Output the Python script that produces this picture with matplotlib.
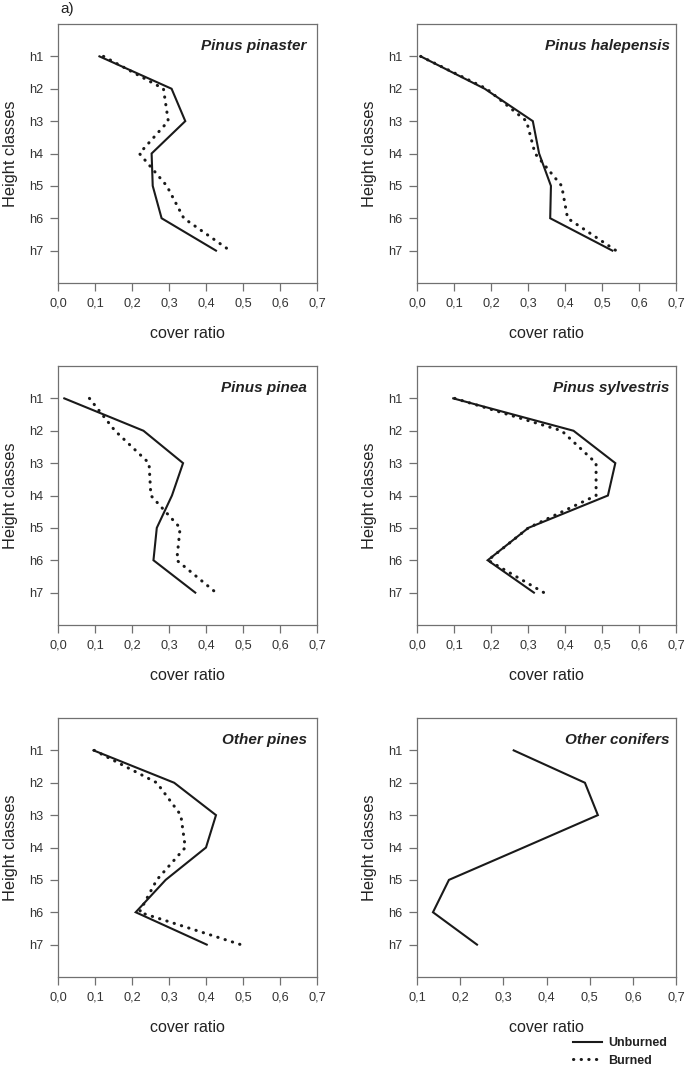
import matplotlib.pyplot as plt
from matplotlib.lines import Line2D

plt.rcParams['font.family'] = ['Liberation Sans', 'DejaVu Sans']

classes = ['h1', 'h2', 'h3', 'h4', 'h5', 'h6', 'h7']
species = ['Pinus pinaster', 'Pinus halepensis', 'Pinus pinea',
           'Pinus sylvestris', 'Other pines', 'Other conifers']

unburned = {
    'Pinus pinaster':   [0.112, 0.307, 0.344, 0.253, 0.256, 0.280, 0.427],
    'Pinus halepensis': [0.010, 0.183, 0.313, 0.330, 0.362, 0.360, 0.528],
    'Pinus pinea':      [0.017, 0.231, 0.338, 0.308, 0.267, 0.258, 0.371],
    'Pinus sylvestris': [0.098, 0.423, 0.536, 0.516, 0.301, 0.191, 0.316],
    'Other pines':      [0.096, 0.314, 0.427, 0.400, 0.291, 0.210, 0.402],
    'Other conifers':   [0.324, 0.489, 0.519, 0.347, 0.174, 0.137, 0.239],
}
burned = {
    'Pinus pinaster':   [0.123, 0.285, 0.298, 0.220, 0.294, 0.340, 0.465],
    'Pinus halepensis': [0.010, 0.188, 0.296, 0.319, 0.391, 0.407, 0.538],
    'Pinus pinea':      [0.085, 0.154, 0.246, 0.251, 0.330, 0.321, 0.427],
    'Pinus sylvestris': [0.102, 0.391, 0.484, 0.484, 0.301, 0.192, 0.343],
    'Other pines':      [0.098, 0.267, 0.332, 0.344, 0.267, 0.220, 0.494],
}
xticks_main = [0.0, 0.1, 0.2, 0.3, 0.4, 0.5, 0.6, 0.7]
xticks_conifers = [0.1, 0.2, 0.3, 0.4, 0.5, 0.6, 0.7]

W, H = 685, 1065
fig = plt.figure(figsize=(W / 100, H / 100), dpi=100)

lefts = [58, 417]
tops = [24, 366, 718]
pw, ph = 259, 259
gray = '#707070'
dotted = (0, (0.1, 2.4))
title_x = [0.96, 0.975]

for i, sp in enumerate(species):
    r, c = divmod(i, 2)
    ax = fig.add_axes([lefts[c] / W, 1 - (tops[r] + ph) / H, pw / W, ph / H])
    y = range(1, len(classes) + 1)
    ax.plot(unburned[sp], y, color='#1a1a1a', lw=1.5, solid_joinstyle='miter')
    if sp in burned:
        ax.plot(burned[sp], y, color='#1a1a1a', lw=2.2, linestyle=dotted,
                dash_capstyle='round')
    ticks = xticks_conifers if sp == 'Other conifers' else xticks_main
    ax.set_xlim(ticks[0], ticks[-1])
    ax.set_ylim(8, 0)
    ax.set_xticks(ticks)
    ax.set_xticklabels([f"{t:.1f}".replace('.', ',') for t in ticks])
    ax.set_yticks(list(y))
    ax.set_yticklabels(classes)
    for s in ax.spines.values():
        s.set_color(gray)
        s.set_linewidth(0.9)
    ax.tick_params(colors=gray, labelcolor='#333333', labelsize=9.2,
                   length=5.5, width=0.9, pad=5)
    ax.set_xlabel('cover ratio', fontsize=11.5, color='#222222', labelpad=12)
    ax.set_ylabel('Height classes', fontsize=11.8, color='#222222', labelpad=8)
    ax.text(title_x[c], 0.915, sp, transform=ax.transAxes, ha='right', va='center',
            fontsize=11, fontweight='bold', fontstyle='italic', color='#222222')

fig.text(60 / W, 1 - 9 / H, 'a)', fontsize=11, color='#222222', va='center')

handles = [Line2D([], [], color='#1a1a1a', lw=1.5),
           Line2D([], [], color='#1a1a1a', lw=2.2, linestyle=dotted,
                  dash_capstyle='round')]
leg = fig.legend(handles, ['Unburned', 'Burned'], loc='lower right',
                 bbox_to_anchor=(678 / W, -13 / H), frameon=False,
                 handlelength=2.3, handletextpad=0.5, labelspacing=0.45,
                 prop={'weight': 'bold', 'size': 9})
for t in leg.get_texts():
    t.set_color('#222222')

fig.savefig('out.png', dpi=100)
